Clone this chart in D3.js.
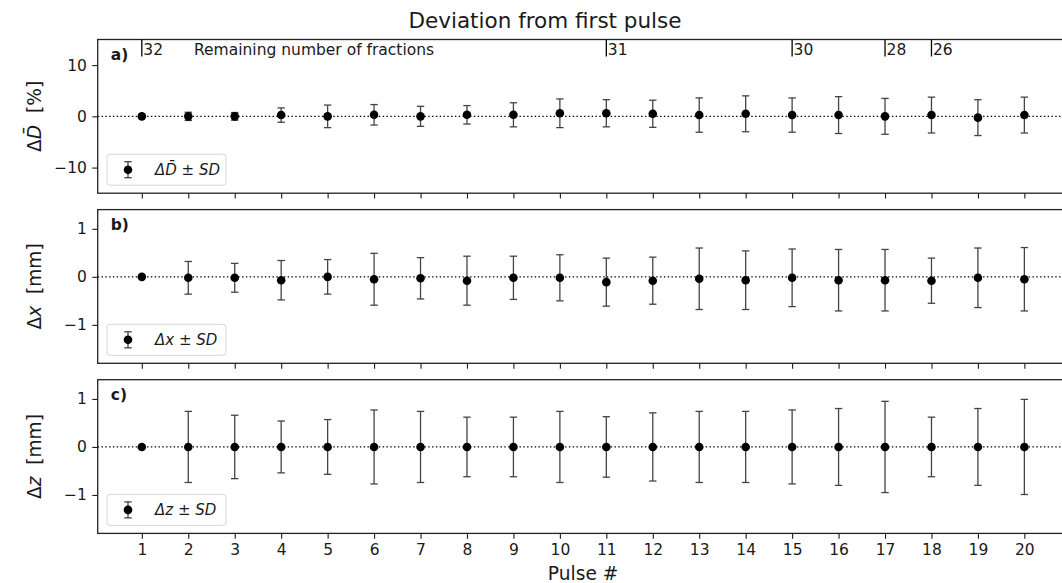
<!DOCTYPE html>
<html>
<head>
<meta charset="utf-8">
<script src="https://cdn.jsdelivr.net/npm/d3@7"></script>
<style>
  html, body { margin: 0; padding: 0; background: #fff; }
  svg { display: block; font-family: "DejaVu Sans", sans-serif; }
</style>
</head>
<body>
<svg id="chart" width="1062" height="583"></svg>
<script>
// pulse numbers on the x axis
const pulses = [1, 2, 3, 4, 5, 6, 7, 8, 9, 10, 11, 12, 13, 14, 15, 16, 17, 18, 19, 20];

// a) mean dose deviation [%]
const doseMean = [0, 0, 0, 0.25, 0, 0.3, 0, 0.3, 0.3, 0.6, 0.6, 0.5, 0.25, 0.5, 0.25, 0.25, 0, 0.25, -0.25, 0.25];
const doseSD   = [0, 0.8, 0.75, 1.4, 2.2, 2.0, 1.95, 1.8, 2.35, 2.8, 2.65, 2.65, 3.35, 3.5, 3.35, 3.6, 3.5, 3.5, 3.5, 3.5];

// b) x deviation [mm]
const xMean = [0, -0.02, -0.02, -0.07, 0, -0.05, -0.03, -0.08, -0.02, -0.02, -0.11, -0.08, -0.04, -0.07, -0.02, -0.07, -0.07, -0.08, -0.02, -0.05];
const xSD   = [0, 0.34, 0.30, 0.41, 0.36, 0.54, 0.43, 0.51, 0.45, 0.48, 0.50, 0.49, 0.64, 0.61, 0.60, 0.64, 0.64, 0.47, 0.62, 0.66];

// c) z deviation [mm]
const zMean = [0, 0, 0, 0, 0, 0, 0, 0, 0, 0, 0, 0, 0, 0, 0, 0, 0, 0, 0, 0];
const zSD   = [0, 0.74, 0.66, 0.54, 0.57, 0.77, 0.74, 0.62, 0.62, 0.74, 0.63, 0.71, 0.74, 0.74, 0.77, 0.80, 0.95, 0.62, 0.80, 0.99];

// remaining number of fractions, marked at the top of panel a
const fractionPulses = [1, 11, 15, 17, 18];
const fractionLabels = ['32', '31', '30', '28', '26'];

const doseTicks = [-10, 0, 10];
const mmTicks = [-1, 0, 1];

const svg = d3.select('#chart');
const ink = '#1a1a1a';

const margin = { left: 97.7 };
const plotRight = 1068.5;          // axes run past the picture's right edge
const panelHeight = 153.7;
const panelTops = [39.5, 209.6, 379.7];

const x = d3.scaleLinear().domain([0.05, 20.95]).range([margin.left, plotRight]);

const panels = [
    { tag: 'a)', mean: doseMean, sd: doseSD, domain: [-15, 15], ticks: doseTicks, sym: 'D', bar: true, unit: '[%]' },
    { tag: 'b)', mean: xMean, sd: xSD, domain: [-1.8, 1.4], ticks: mmTicks, sym: 'x', bar: false, unit: '[mm]' },
    { tag: 'c)', mean: zMean, sd: zSD, domain: [-1.8, 1.4], ticks: mmTicks, sym: 'z', bar: false, unit: '[mm]' }
];

// symbol with optional bar (macron) for the mean
function symbolText(sel, p) {
    sel.append('tspan').text('\u0394');
    sel.append('tspan').attr('font-style', 'italic').text(p.bar ? p.sym + '\u0304' : p.sym);
}

panels.forEach((p, k) => {
    const top = panelTops[k];
    const y = d3.scaleLinear().domain(p.domain).range([top + panelHeight, top]);
    const g = svg.append('g');

    // dotted zero line
    g.append('line')
        .attr('x1', margin.left).attr('x2', plotRight)
        .attr('y1', y(0)).attr('y2', y(0))
        .attr('stroke', '#000').attr('stroke-width', 1.2)
        .attr('stroke-dasharray', '1.4,2.4');

    // error bars
    const eb = g.append('g').attr('stroke', '#444').attr('stroke-width', 1.3);
    pulses.forEach((pulse, i) => {
        if (p.sd[i] === 0) return;
        const cx = x(pulse);
        const y0 = y(p.mean[i] - p.sd[i]);
        const y1 = y(p.mean[i] + p.sd[i]);
        eb.append('line').attr('x1', cx).attr('x2', cx).attr('y1', y0).attr('y2', y1);
        eb.append('line').attr('x1', cx - 3.7).attr('x2', cx + 3.7).attr('y1', y0).attr('y2', y0);
        eb.append('line').attr('x1', cx - 3.7).attr('x2', cx + 3.7).attr('y1', y1).attr('y2', y1);
    });

    // mean markers
    g.append('g').selectAll('circle')
        .data(pulses)
        .enter().append('circle')
        .attr('cx', d => x(d))
        .attr('cy', (d, i) => y(p.mean[i]))
        .attr('r', 4.3)
        .attr('fill', '#000');

    // axes
    const xAxis = d3.axisBottom(x).tickValues(pulses).tickSize(5.4).tickPadding(5)
        .tickFormat(k === 2 ? d3.format('d') : () => '');
    g.append('g')
        .attr('transform', `translate(0,${top + panelHeight})`)
        .call(xAxis)
        .call(a => a.select('.domain').remove())
        .call(a => a.selectAll('line').attr('stroke', ink).attr('stroke-width', 1.1))
        .call(a => a.selectAll('text').attr('fill', ink).attr('font-size', 15.5).attr('font-family', 'DejaVu Sans'));

    const yAxis = d3.axisLeft(y).tickValues(p.ticks).tickSize(5.4).tickPadding(5.4)
        .tickFormat(d => d < 0 ? '\u2212' + Math.abs(d) : String(d));
    g.append('g')
        .attr('transform', `translate(${margin.left},0)`)
        .call(yAxis)
        .call(a => a.select('.domain').remove())
        .call(a => a.selectAll('line').attr('stroke', ink).attr('stroke-width', 1.1))
        .call(a => a.selectAll('text').attr('fill', ink).attr('font-size', 15.5).attr('font-family', 'DejaVu Sans'));

    // frame
    g.append('rect')
        .attr('x', margin.left).attr('y', top)
        .attr('width', plotRight - margin.left).attr('height', panelHeight)
        .attr('fill', 'none').attr('stroke', '#222').attr('stroke-width', 1.3);

    // panel tag
    g.append('text')
        .attr('x', margin.left + 13).attr('y', top + 20)
        .attr('font-size', 15.5).attr('font-weight', 'bold').attr('fill', ink)
        .text(p.tag);

    // y label
    const yl = g.append('text')
        .attr('transform', `translate(41,${top + panelHeight / 2}) rotate(-90)`)
        .attr('text-anchor', 'middle')
        .attr('font-size', 18.6).attr('fill', ink);
    symbolText(yl, p);
    yl.append('tspan').attr('xml:space', 'preserve').text('  ' + p.unit);

    // legend
    const lg = g.append('g').attr('transform', `translate(107,${top + panelHeight - 39})`);
    lg.append('rect')
        .attr('width', 119).attr('height', 31).attr('rx', 3)
        .attr('fill', '#fff').attr('fill-opacity', 0.8)
        .attr('stroke', '#d6d6d6').attr('stroke-width', 1);
    const ly = 15.5;
    lg.append('line').attr('x1', 21).attr('x2', 21).attr('y1', ly - 8).attr('y2', ly + 8)
        .attr('stroke', '#444').attr('stroke-width', 1.3);
    [ly - 8, ly + 8].forEach(v => lg.append('line')
        .attr('x1', 17.3).attr('x2', 24.7).attr('y1', v).attr('y2', v)
        .attr('stroke', '#444').attr('stroke-width', 1.3));
    lg.append('circle').attr('cx', 21).attr('cy', ly).attr('r', 4.3).attr('fill', '#000');
    const lt = lg.append('text')
        .attr('x', 48).attr('y', ly + 5.3)
        .attr('font-size', 15).attr('fill', ink).attr('font-style', 'italic');
    lt.append('tspan').text('\u0394' + (p.bar ? p.sym + '\u0304' : p.sym));
    lt.append('tspan').attr('font-style', 'normal').text(' \u00b1 ');
    lt.append('tspan').text('SD');

    // remaining number of fractions
    if (k === 0) {
        const fg = g.append('g');
        fractionPulses.forEach((fp, i) => {
            fg.append('line')
                .attr('x1', x(fp)).attr('x2', x(fp))
                .attr('y1', top).attr('y2', top + 17)
                .attr('stroke', '#000').attr('stroke-width', 1.3);
            fg.append('text')
                .attr('x', x(fp) + 1.5).attr('y', top + 15.5)
                .attr('font-size', 15.5).attr('fill', ink)
                .text(fractionLabels[i]);
        });
        fg.append('text')
            .attr('x', 194).attr('y', top + 15.5)
            .attr('font-size', 15.5).attr('fill', ink)
            .text('Remaining number of fractions');
    }
});

// title and x label
svg.append('text')
    .attr('x', 545).attr('y', 28)
    .attr('text-anchor', 'middle')
    .attr('font-size', 21.5).attr('fill', ink)
    .text('Deviation from first pulse');

svg.append('text')
    .attr('x', (margin.left + plotRight) / 2).attr('y', 580)
    .attr('text-anchor', 'middle')
    .attr('font-size', 18.6).attr('fill', ink)
    .text('Pulse #');
</script>
</body>
</html>
